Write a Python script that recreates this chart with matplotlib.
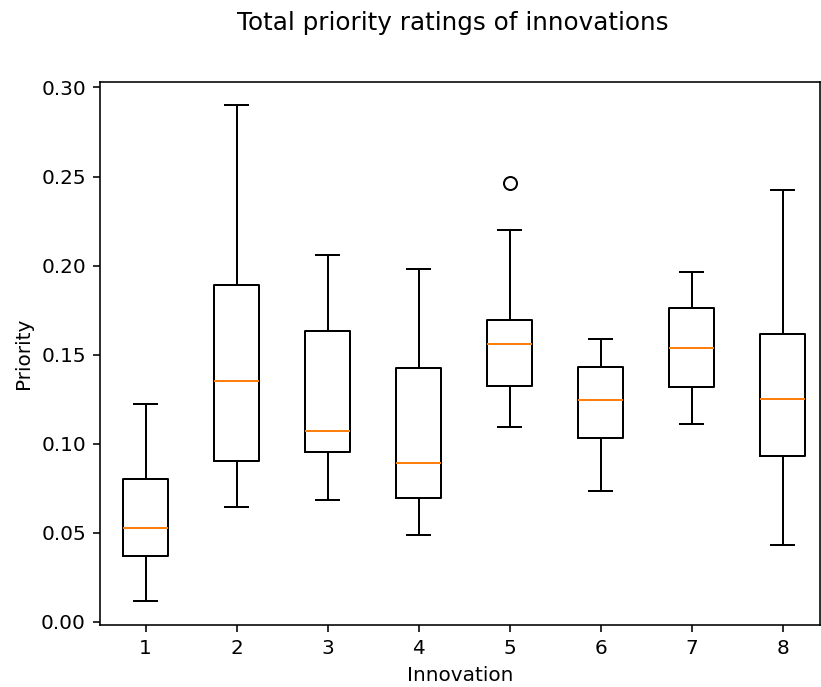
import matplotlib
matplotlib.use("Agg")
import matplotlib.pyplot as plt

# box statistics
innovations = [1, 2, 3, 4, 5, 6, 7, 8]
whisker_low = [0.0118, 0.0646, 0.0685, 0.0489, 0.1096, 0.0736, 0.1112, 0.0433]
q1 = [0.0371, 0.0904, 0.0955, 0.0697, 0.1326, 0.1034, 0.1320, 0.0933]
median = [0.0528, 0.1354, 0.1073, 0.0893, 0.1562, 0.1247, 0.1539, 0.1253]
q3 = [0.0803, 0.1893, 0.1635, 0.1427, 0.1697, 0.1433, 0.1764, 0.1618]
whisker_high = [0.1225, 0.2899, 0.2062, 0.1978, 0.2197, 0.1590, 0.1966, 0.2427]
outliers = [[], [], [], [], [0.2461], [], [], []]

stats = []
for i in range(len(innovations)):
    stats.append({
        "label": str(innovations[i]),
        "whislo": whisker_low[i],
        "q1": q1[i],
        "med": median[i],
        "q3": q3[i],
        "whishi": whisker_high[i],
        "fliers": outliers[i],
    })

# 821 x 687 px at 144 dpi
fig, ax = plt.subplots(figsize=(821 / 144, 687 / 144), dpi=144)
fig.subplots_adjust(left=0.1218, right=0.9988, top=0.881, bottom=0.09)

ax.bxp(stats, positions=innovations,
       flierprops=dict(marker="o", markersize=6.5, markerfacecolor="none"))

ax.set_xlim(0.5, 8.41)
ax.set_ylim(-0.0019, 0.3032)
ax.set_yticks([0.0, 0.05, 0.10, 0.15, 0.20, 0.25, 0.30])
ax.yaxis.set_major_formatter(plt.FuncFormatter(lambda v, _: "{:.2f}".format(v)))
ax.set_xlabel("Innovation")
ax.set_ylabel("Priority")
ax.set_title("Total priority ratings of innovations", fontsize=12.3, pad=26, x=0.49)

plt.savefig("out.png", dpi=144)
